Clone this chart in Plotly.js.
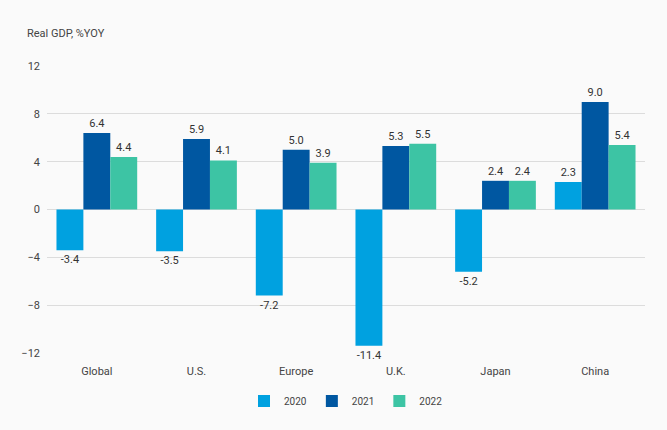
<!DOCTYPE html>
<html>
<head>
<meta charset="utf-8">
<script src="https://cdn.plot.ly/plotly-3.0.1.min.js"></script>
<style>html,body{margin:0;padding:0;background:#fafafa;}#chart{width:667px;height:430px;}</style>
</head>
<body>
<div id="chart"></div>
<script>
const categories = ["Global", "U.S.", "Europe", "U.K.", "Japan", "China"];
const years = ["2020", "2021", "2022"];
const gdp2020 = [-3.4, -3.5, -7.2, -11.4, -5.2, 2.3];
const gdp2021 = [6.4, 5.9, 5.0, 5.3, 2.4, 9.0];
const gdp2022 = [4.4, 4.1, 3.9, 5.5, 2.4, 5.4];
const colors = ["#00a1e0", "#0057a1", "#3dc4a4"];
const series = [gdp2020, gdp2021, gdp2022];

const FONT = "Roboto, 'Noto Sans', sans-serif";

const data = series.map((vals, i) => ({
  type: "bar",
  name: years[i],
  x: categories,
  y: vals,
  marker: {color: colors[i]},
  text: vals.map(v => v.toFixed(1)),
  textposition: "outside",
  textfont: {family: FONT, size: 11, color: "#333"},
  cliponaxis: false,
  hoverinfo: "x+y"
}));

const layout = {
  width: 667, height: 430,
  paper_bgcolor: "#fafafa", plot_bgcolor: "#fafafa",
  font: {family: FONT, size: 11, color: "#444"},
  margin: {l: 47, r: 22, t: 66, b: 77},
  barmode: "group", bargap: 0.19, bargroupgap: 0,
  title: {text: "Real GDP, %YOY", x: 27/667, xanchor: "left", y: 1 - 33/430, yanchor: "middle",
          font: {family: FONT, size: 11, color: "#444"}},
  xaxis: {showgrid: false, showline: false, ticks: "", ticklabelstandoff: 10,
          tickfont: {family: FONT, size: 11, color: "#444"}},
  yaxis: {range: [-12, 12], dtick: 4, tick0: 0, showgrid: true, gridcolor: "#dcdcdc", gridwidth: 1,
          zeroline: true, zerolinecolor: "#dcdcdc", zerolinewidth: 1, showline: false, ticks: "",
          ticklabelstandoff: 6,
          tickfont: {family: FONT, size: 11, color: "#444"}},
  showlegend: true,
  legend: {orientation: "h", x: 0.5, xanchor: "center", y: -0.167, yanchor: "middle",
           font: {family: FONT, size: 10, color: "#444"}, itemwidth: 30, traceorder: "normal"}
};

Plotly.newPlot("chart", data, layout, {displayModeBar: false, staticPlot: true});
</script>
</body>
</html>
